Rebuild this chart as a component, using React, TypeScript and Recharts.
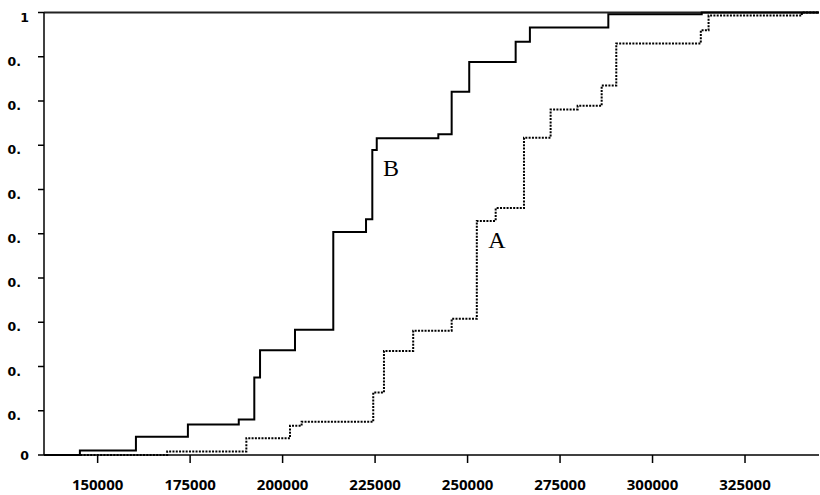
import React from 'react';
import { LineChart, Line, XAxis, YAxis, ReferenceLine, ReferenceDot } from 'recharts';

const xDomain = [135500, 345000];
const xTicks = [150000, 175000, 200000, 225000, 250000, 275000, 300000, 325000];
const yTicks = [0, 0.1, 0.2, 0.3, 0.4, 0.5, 0.6, 0.7, 0.8, 0.9, 1];
const yTickLabels = ['0', '0.', '0.', '0.', '0.', '0.', '0.', '0.', '0.', '0.', '1'];

// Series B (solid step curve)
const bX = [135500, 145200, 160350, 174400, 188150, 192350, 193900, 203350, 213700, 222550, 224250, 225450, 242100, 245700, 250450, 263000, 266850, 288050, 313300, 345000];
const bY = [0, 0.01, 0.041, 0.069, 0.08, 0.175, 0.237, 0.283, 0.504, 0.533, 0.689, 0.716, 0.725, 0.821, 0.888, 0.934, 0.966, 0.996, 1, 1];

// Series A (dotted step curve)
const aX = [135500, 168800, 190200, 202000, 205150, 224500, 227400, 235300, 245700, 252500, 257600, 265250, 272450, 279750, 286250, 290200, 313050, 315150, 340350, 345000];
const aY = [0, 0.008, 0.038, 0.066, 0.075, 0.141, 0.235, 0.281, 0.308, 0.529, 0.558, 0.717, 0.781, 0.789, 0.835, 0.93, 0.96, 0.993, 1, 1];

const labelB = { x: 229300, y: 0.649, text: 'B' };
const labelA = { x: 257950, y: 0.486, text: 'A' };

const seriesB = bX.map((x, i) => ({ x, y: bY[i] }));
const seriesA = aX.map((x, i) => ({ x, y: aY[i] }));

const YTick = (props: any) => {
  const { x, y, payload } = props;
  const idx = Math.round(payload.value * 10);
  const label = yTickLabels[idx];
  const isEnd = idx === 0 || idx === 10;
  const endX = isEnd ? x - 9 : x - 17;
  const dy = idx === 0 ? 5 : 9;
  return (
    <text x={endX} y={y} dy={dy} textAnchor="end" fontFamily="DejaVu Sans" fontWeight="bold" fontSize={12.5} fill="#000">
      {label}
    </text>
  );
};

export default function App() {
  return (
    <div style={{ position: 'absolute', left: 0, top: 0, width: 820, height: 495, background: '#fff' }}>
      <LineChart width={820} height={495} margin={{ top: 12.5, right: 1, bottom: 0, left: 0 }}>
        <XAxis
          type="number"
          dataKey="x"
          domain={xDomain}
          ticks={xTicks}
          allowDataOverflow
          height={40}
          tickSize={8}
          tickMargin={16}
          axisLine={{ stroke: '#000', strokeWidth: 1.5 }}
          tickLine={{ stroke: '#000', strokeWidth: 1.5 }}
          tick={{ fill: '#000', fontFamily: 'Open Sans', fontWeight: 700, fontSize: 15 }}
        />
        <YAxis
          type="number"
          dataKey="y"
          domain={[0, 1]}
          ticks={yTicks}
          width={44}
          tickSize={6}
          tickMargin={0}
          axisLine={{ stroke: '#000', strokeWidth: 1.5 }}
          tickLine={{ stroke: '#000', strokeWidth: 1.5 }}
          tick={<YTick />}
        />
        <ReferenceLine y={1} stroke="#222" strokeWidth={2} />
        <Line
          data={seriesA}
          dataKey="y"
          type="stepAfter"
          stroke="#000"
          strokeWidth={2}
          strokeDasharray="2 1.3"
          dot={false}
          isAnimationActive={false}
        />
        <Line
          data={seriesB}
          dataKey="y"
          type="stepAfter"
          stroke="#000"
          strokeWidth={2}
          dot={false}
          isAnimationActive={false}
        />
        <ReferenceDot
          x={labelB.x}
          y={labelB.y}
          r={0}
          stroke="none"
          label={{ value: labelB.text, position: 'center', fontFamily: 'Liberation Serif', fontSize: 24, fill: '#000' }}
        />
        <ReferenceDot
          x={labelA.x}
          y={labelA.y}
          r={0}
          stroke="none"
          label={{ value: labelA.text, position: 'center', fontFamily: 'Liberation Serif', fontSize: 24, fill: '#000' }}
        />
      </LineChart>
    </div>
  );
}
